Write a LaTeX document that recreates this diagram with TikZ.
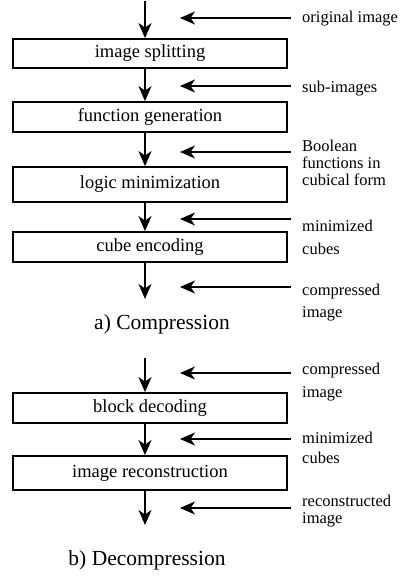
\documentclass[tikz,border=0pt]{standalone}
\usepackage{fontspec}
\setmainfont{Liberation Serif}
\usetikzlibrary{arrows.meta}

\tikzset{
  stage/.style={draw, line width=1.8pt, minimum width=274pt, inner sep=0pt,
    font=\fontsize{18.5}{20}\selectfont},
  flow/.style={line width=2pt, -{Stealth[length=15pt, width=13pt, inset=4.5pt]}},
  note/.style={anchor=west, inner sep=0pt, align=left},
  caption/.style={font=\fontsize{21.5}{24}\selectfont}
}

\begin{document}
\begin{tikzpicture}[x=1pt, y=-1pt]
	\useasboundingbox (0,0) rectangle (406,577);

	% a) compression
	\node[stage, minimum height=29pt] (split) at (150,53.5) {image splitting};
	\node[stage, minimum height=30pt] (fgen) at (150,117) {function generation};
	\node[stage, minimum height=35pt] (lmin) at (150,184.5) {logic minimization};
	\node[stage, minimum height=30pt] (cenc) at (150,247) {cube encoding};
	\coordinate (cin) at (145,1);
	\coordinate (cout) at (145,299);
	\draw[flow] (cin) -- (cin |- split.north);
	\draw[flow] (cin |- split.south) -- (cin |- fgen.north);
	\draw[flow] (cin |- fgen.south) -- (cin |- lmin.north);
	\draw[flow] (cin |- lmin.south) -- (cin |- cenc.north);
	\draw[flow] (cin |- cenc.south) -- (cout);
	\node[caption] (capa) at (162,324) {a) Compression};

	% b) decompression
	\node[stage, minimum height=30pt] (bdec) at (150,408) {block decoding};
	\node[stage, minimum height=34pt] (irec) at (150,473) {image reconstruction};
	\coordinate (din) at (145,358);
	\coordinate (dout) at (145,525);
	\draw[flow] (din) -- (din |- bdec.north);
	\draw[flow] (din |- bdec.south) -- (din |- irec.north);
	\draw[flow] (din |- irec.south) -- (dout);
	\node[caption] (capb) at (147,560) {b) Decompression};

	% data labels on the right
	\node[note, font=\fontsize{16.5}{20}\selectfont] (t1) at (302,19) {original image};
	\node[note, font=\fontsize{16.5}{20}\selectfont] (t2) at (302,89) {sub-images};
	\node[note, font=\fontsize{16.5}{17}\selectfont] (t3) at (302,163) {Boolean\\functions in\\cubical form};
	\node[note, font=\fontsize{16.5}{23}\selectfont] (t4) at (302,237) {minimized\\cubes};
	\node[note, font=\fontsize{16.5}{22}\selectfont] (t5) at (302,303) {compressed\\image};
	\node[note, font=\fontsize{16.5}{23}\selectfont] (t6) at (302,382) {compressed\\image};
	\node[note, font=\fontsize{16.5}{20}\selectfont] (t7) at (302,448) {minimized\\cubes};
	\node[note, font=\fontsize{16.5}{17}\selectfont] (t8) at (302,511) {reconstructed\\image};
	\foreach \n/\y in {1/18, 2/86, 3/152, 4/219, 5/287, 6/373, 7/439, 8/508} {
		\coordinate (s\n) at (291,\y);
		\coordinate (e\n) at (180,\y);
		\draw[flow] (s\n) -- (e\n);
	}
\end{tikzpicture}
\end{document}
